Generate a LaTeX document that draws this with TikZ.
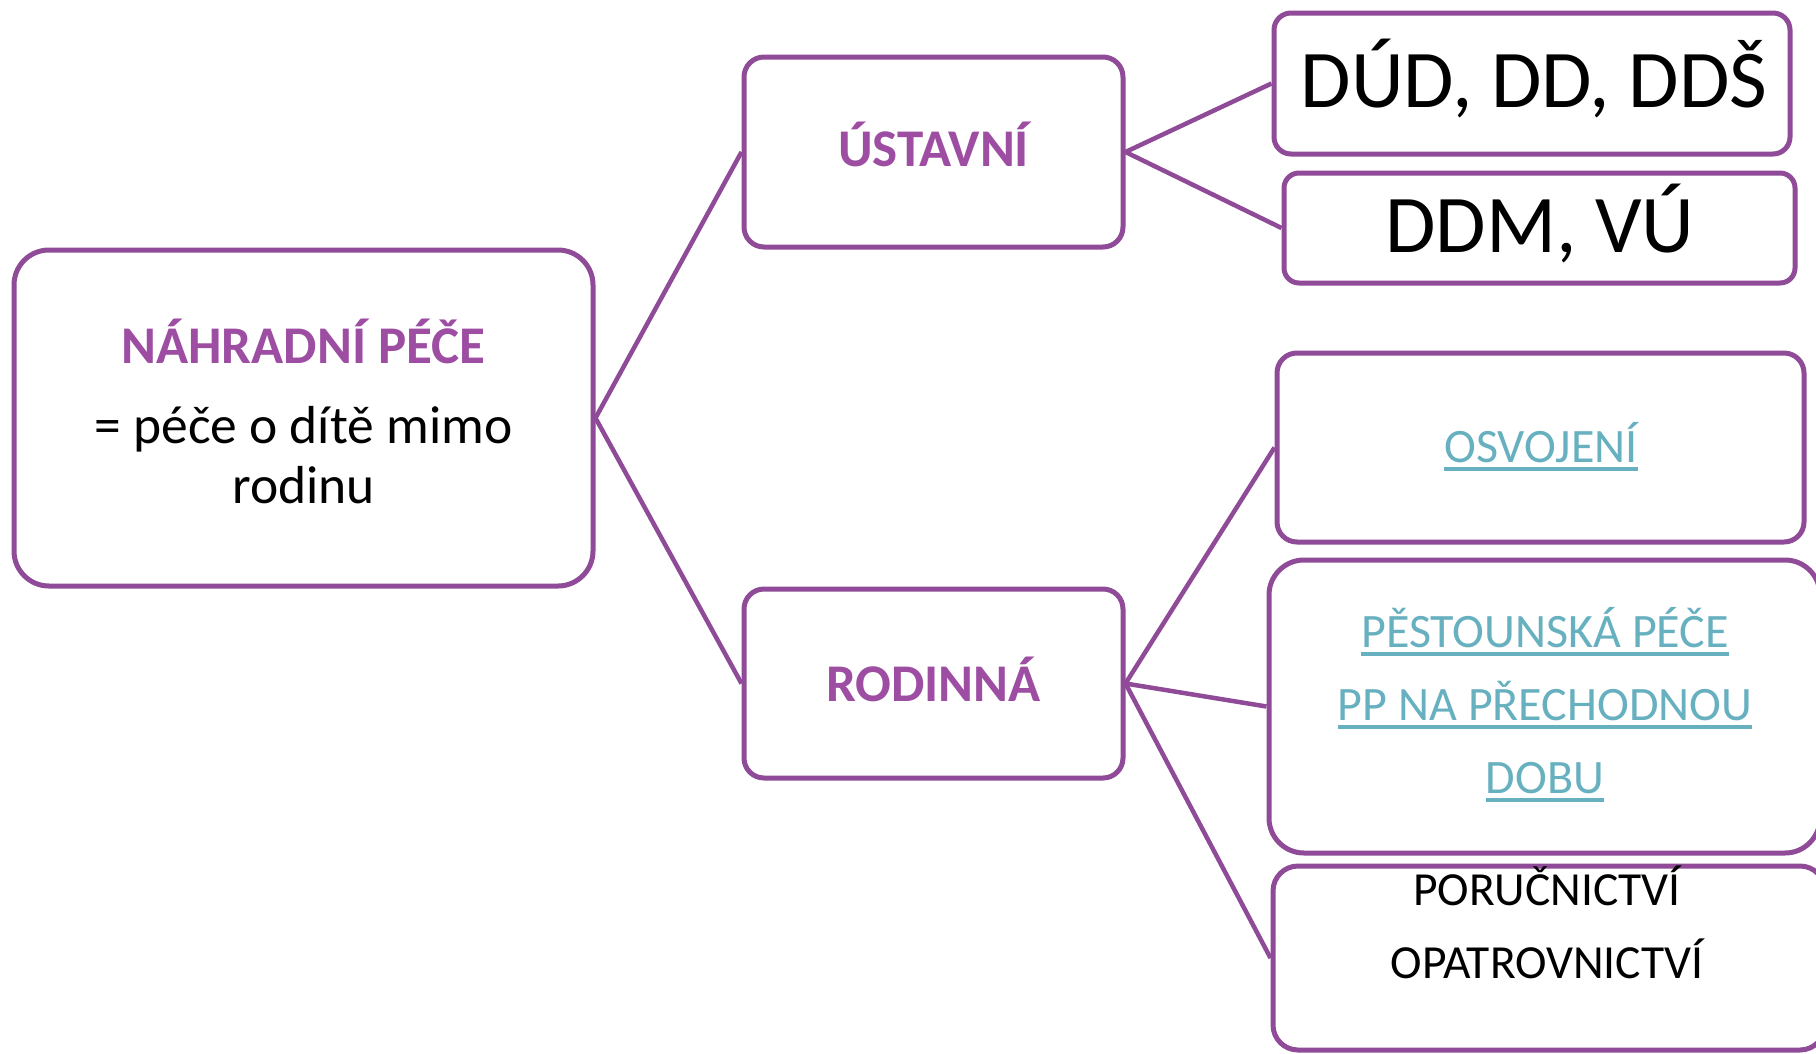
\documentclass[tikz,border=0pt]{standalone}
\usepackage{fontspec}
\setmainfont{Carlito}
\definecolor{boxpurple}{HTML}{8F4B98}
\definecolor{titlepurple}{HTML}{9D4EA2}
\definecolor{linkteal}{HTML}{66B0BF}
\newcommand\linkul[1]{\setbox0\hbox{#1}\rlap{\rule[-9pt]{\wd0}{4pt}}\box0}
\begin{document}
\begin{tikzpicture}[x=1pt,y=-1pt,
  box/.style={draw=boxpurple, line width=5pt, fill=white, inner sep=0pt,
    rounded corners=#1, minimum width=\bw, minimum height=\bh},
  conn/.style={draw=boxpurple, line width=4.5pt},
  txt/.style={inner sep=0pt, anchor=base},
  titletxt/.style={txt, text=titlepurple, font=\fontsize{53}{60}\selectfont\bfseries},
  bodytxt/.style={txt, text=black, font=\fontsize{53.5}{60}\selectfont},
  bigtxt/.style={txt, text=black, font=\fontsize{82}{90}\selectfont},
  linktxt/.style={txt, text=linkteal, font=\fontsize{48}{73}\selectfont},
  smalltxt/.style={txt, text=black, font=\fontsize{47.5}{73}\selectfont}]
\useasboundingbox (0,0) rectangle (1816,1053);
\clip (0,0) rectangle (1816,1053);
\fill[white] (0,0) rectangle (1816,1053);
% boxes
\def\bw{579pt}\def\bh{336pt}
\node[box=35pt] (root) at (303.5,418) {};
\def\bw{379pt}\def\bh{190pt}
\node[box=20pt] (inst) at (933.5,152) {};
\def\bw{379pt}\def\bh{189pt}
\node[box=20pt] (fam) at (933.5,683.5) {};
\def\bw{516pt}\def\bh{141pt}
\node[box=17pt] (dud) at (1532,83.5) {};
\def\bw{511pt}\def\bh{110pt}
\node[box=15pt] (ddm) at (1539.5,228) {};
\def\bw{527pt}\def\bh{189pt}
\node[box=20pt] (osv) at (1540.5,447.5) {};
\def\bw{551pt}\def\bh{293pt}
\node[box=35pt] (pest) at (1544.5,706.5) {};
\def\bw{552pt}\def\bh{184pt}
\node[box=25pt] (por) at (1549,958) {};
% connectors
\draw[conn] (root.east) -- (inst.west);
\draw[conn] (root.east) -- (fam.west);
\draw[conn] (inst.east) -- (dud.west);
\draw[conn] (inst.east) -- (ddm.west);
\draw[conn] (fam.east) -- (osv.west);
\draw[conn] (fam.east) -- (pest.west);
\draw[conn] (fam.east) -- (por.west);
% texts
\node[titletxt] (t-root) at (303.5,363) {NÁHRADNÍ PÉČE};
\node[bodytxt] (t-root2) at (303.5,443) {= péče o dítě mimo};
\node[bodytxt] (t-root3) at (303.5,503) {rodinu};
\node[titletxt] (t-inst) at (933.5,166.5) {ÚSTAVNÍ};
\node[titletxt] (t-fam) at (933.5,701) {RODINNÁ};
\node[bigtxt] (t-dud) at (1534,107) {DÚD, DD, DDŠ};
\node[bigtxt] (t-ddm) at (1540,252) {DDM, VÚ};
\node[linktxt] (t-osv) at (1541,462) {\linkul{OSVOJENÍ}};
\node[linktxt] (t-pest1) at (1545,647) {\linkul{PĚSTOUNSKÁ PÉČE}};
\node[linktxt] (t-pest2) at (1545,720) {\linkul{PP NA PŘECHODNOU}};
\node[linktxt] (t-pest3) at (1545,793) {\linkul{DOBU}};
\node[smalltxt] (t-por1) at (1547,905) {PORUČNICTVÍ};
\node[smalltxt] (t-por2) at (1547,978) {OPATROVNICTVÍ};
\end{tikzpicture}
\end{document}
